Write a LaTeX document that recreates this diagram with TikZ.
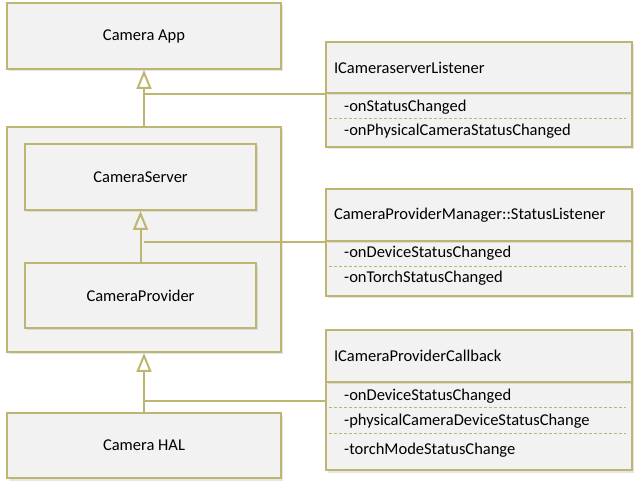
\documentclass[tikz,border=0pt]{standalone}
\usepackage{fontspec}
\setmainfont{Carlito}
\usepackage{xcolor}
\usepackage{tikz}
\usetikzlibrary{arrows.meta}
\usetikzlibrary{positioning}
\usetikzlibrary{shadows}
\usetikzlibrary{calc}

\definecolor{umlline}{RGB}{190,182,112}
\definecolor{umlfill}{HTML}{F2F2F2}

\begin{document}
\begin{tikzpicture}[
    x=1pt, y=-1pt,
    font=\fontsize{16.5}{19}\selectfont,
    comp/.style={rectangle, draw=umlline, fill=umlfill, line width=2pt,
                 drop shadow={shadow xshift=1.5pt, shadow yshift=-2.5pt, opacity=0.2}},
    ifhead/.style={comp, anchor=north west, minimum width=306pt, text width=290pt,
                   align=left, inner xsep=8pt},
    ifbody/.style={comp, anchor=north west, minimum width=306pt},
    item/.style={anchor=base west, inner sep=0pt},
    sep/.style={draw=umlline, line width=1pt, dash pattern=on 3pt off 2pt},
    inherit/.style={draw=umlline, line width=2pt, -{Triangle[open, length=19pt, width=15pt]}},
    link/.style={draw=umlline, line width=1.2pt}
]
\useasboundingbox (0,0) rectangle (638,489);

% Componentes
\node[comp, minimum width=274pt, minimum height=66pt] (app) at (144,36) {Camera App};
\node[comp, minimum width=274pt, minimum height=225pt] (outer) at (144,239.5) {};
\node[comp, minimum width=231pt, minimum height=66pt] (srv) at (140.5,177) {CameraServer};
\node[comp, minimum width=231pt, minimum height=65pt] (prov) at (140.5,295.5) {CameraProvider};
\node[comp, minimum width=274pt, minimum height=65pt] (hal) at (144,445.5) {Camera HAL};

% Interfaces
\node[ifbody, minimum height=54pt] (lsnBody) at (325,92) {};
\node[ifhead, minimum height=51pt] (lsnHead) at (325,41) {ICameraserverListener};
\node[item] (lsnA) at (344,112) {-onStatusChanged};
\node[item] (lsnB) at (344,136) {-onPhysicalCameraStatusChanged};
\draw[sep] (329,119) -- (626,119);

\node[ifbody, minimum height=55pt] (spmBody) at (325,240) {};
\node[ifhead, minimum height=52pt] (spmHead) at (325,188) {CameraProviderManager::StatusListener};
\node[item] (spmA) at (344,258) {-onDeviceStatusChanged};
\node[item] (spmB) at (344,283) {-onTorchStatusChanged};
\draw[sep] (329,267) -- (626,267);

\node[ifbody, minimum height=88pt] (cbBody) at (325,381) {};
\node[ifhead, minimum height=52pt] (cbHead) at (325,329) {ICameraProviderCallback};
\node[item] (cbA) at (344,401) {-onDeviceStatusChanged};
\node[item] (cbB) at (344,425) {-physicalCameraDeviceStatusChange};
\node[item] (cbC) at (344,454) {-torchModeStatusChange};
\draw[sep] (329,408) -- (626,408);
\draw[sep] (329,433) -- (626,433);

% Herencia
\draw[inherit] (outer.north) -- (app.south);
\draw[inherit] (prov.north) -- (srv.south);
\draw[inherit] (hal.north) -- (outer.south);

% Conexiones con las interfaces
\coordinate (cbJoin) at ($(cbHead.south west)+(0,18)$);
\draw[link] (lsnHead.south west) -- (lsnHead.south west -| outer.north);
\draw[link] (spmHead.south west) -- (spmHead.south west -| outer.north);
\draw[link] (cbJoin) -- (cbJoin -| outer.north);

\end{tikzpicture}
\end{document}
